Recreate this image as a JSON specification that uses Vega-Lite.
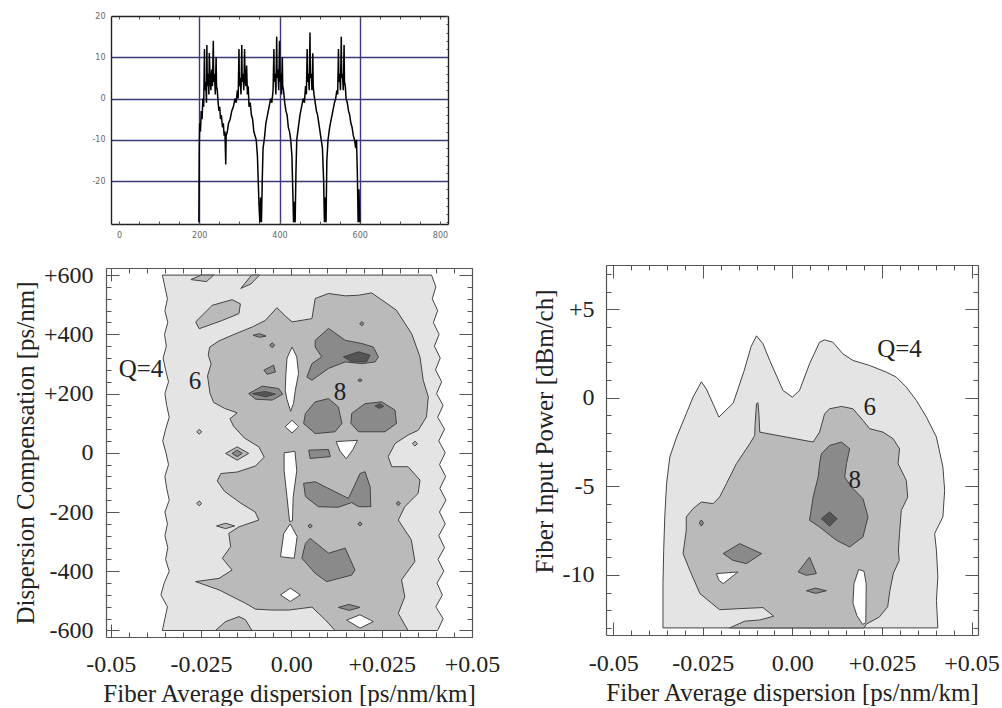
{
"$schema": "https://vega.github.io/schema/vega-lite/v6.json",
"autosize": {"type": "pad"},
"padding": {"left": 13, "top": 12, "right": 0, "bottom": 0},
"background": "white",
"config": {
 "view": {"stroke": null},
 "font": "Liberation Serif",
 "axis": {"labelFont": "Liberation Serif", "labelFontSize": 24, "labelColor": "#222", "titleFont": "Liberation Serif", "titleFontSize": 25, "titleFontWeight": "normal", "titleColor": "#222", "domainColor": "#555", "domainWidth": 1.2, "tickColor": "#555", "tickWidth": 1, "grid": false, "zindex": 1, "labelFlush": false, "labelOverlap": false, "labelBound": false}
},
"datasets": {
 "disp": [
{"x":199,"y":-30},{"x":200,"y":-12},{"x":201,"y":-6},{"x":203,"y":-8},{"x":205,"y":-3},{"x":207,"y":-5},{"x":209,"y":0},{"x":211,"y":-2},{"x":213,"y":12},{"x":214,"y":2},{"x":216,"y":4},{"x":218,"y":-1},{"x":219,"y":13},{"x":220,"y":3},{"x":222,"y":6},{"x":224,"y":1},{"x":225,"y":11},{"x":227,"y":5},{"x":229,"y":2},{"x":231,"y":7},{"x":233,"y":3},{"x":235,"y":14},{"x":236,"y":4},{"x":238,"y":6},{"x":240,"y":1},{"x":242,"y":10},{"x":243,"y":3},{"x":245,"y":2},{"x":247,"y":-1},{"x":249,"y":-3},{"x":251,"y":-2},{"x":253,"y":-5},{"x":255,"y":-4},{"x":258,"y":-7},{"x":260,"y":-6},{"x":262,"y":-9},{"x":264,"y":-8},{"x":266,"y":-16},{"x":267,"y":-9},{"x":270,"y":-8},{"x":273,"y":-6},{"x":277,"y":-5},{"x":281,"y":-3},{"x":285,"y":-2},{"x":289,"y":0},{"x":292,"y":-1},{"x":295,"y":2},{"x":297,"y":0},{"x":299,"y":12},{"x":300,"y":3},{"x":302,"y":5},{"x":304,"y":1},{"x":306,"y":13},{"x":307,"y":4},{"x":309,"y":6},{"x":311,"y":2},{"x":313,"y":12},{"x":314,"y":5},{"x":316,"y":3},{"x":318,"y":8},{"x":320,"y":1},{"x":322,"y":3},{"x":324,"y":-2},{"x":327,"y":-1},{"x":330,"y":-4},{"x":333,"y":-5},{"x":336,"y":-8},{"x":339,"y":-9},{"x":342,"y":-10},{"x":345,"y":-14},{"x":347,"y":-20},{"x":349,"y":-26},{"x":351,"y":-30},{"x":353,"y":-24},{"x":355,"y":-30},{"x":357,"y":-20},{"x":359,"y":-12},{"x":362,"y":-10},{"x":366,"y":-6},{"x":370,"y":-4},{"x":374,"y":-2},{"x":378,"y":0},{"x":381,"y":-1},{"x":384,"y":2},{"x":386,"y":12},{"x":387,"y":4},{"x":389,"y":6},{"x":391,"y":1},{"x":393,"y":15},{"x":394,"y":5},{"x":396,"y":7},{"x":398,"y":2},{"x":400,"y":14},{"x":401,"y":4},{"x":403,"y":6},{"x":405,"y":1},{"x":407,"y":10},{"x":408,"y":3},{"x":410,"y":2},{"x":413,"y":-1},{"x":416,"y":-3},{"x":419,"y":-4},{"x":422,"y":-7},{"x":425,"y":-8},{"x":428,"y":-10},{"x":431,"y":-14},{"x":433,"y":-22},{"x":435,"y":-30},{"x":437,"y":-25},{"x":439,"y":-30},{"x":441,"y":-18},{"x":443,"y":-10},{"x":447,"y":-7},{"x":451,"y":-4},{"x":455,"y":-2},{"x":459,"y":0},{"x":462,"y":-1},{"x":465,"y":3},{"x":467,"y":1},{"x":469,"y":12},{"x":470,"y":4},{"x":472,"y":6},{"x":474,"y":2},{"x":476,"y":16},{"x":477,"y":5},{"x":479,"y":6},{"x":481,"y":2},{"x":483,"y":11},{"x":484,"y":3},{"x":486,"y":1},{"x":489,"y":-1},{"x":492,"y":-3},{"x":495,"y":-4},{"x":498,"y":-6},{"x":501,"y":-8},{"x":504,"y":-10},{"x":507,"y":-12},{"x":510,"y":-20},{"x":512,"y":-30},{"x":514,"y":-24},{"x":516,"y":-30},{"x":518,"y":-15},{"x":521,"y":-10},{"x":525,"y":-7},{"x":529,"y":-5},{"x":533,"y":-3},{"x":537,"y":-1},{"x":540,"y":0},{"x":543,"y":2},{"x":545,"y":1},{"x":547,"y":12},{"x":548,"y":4},{"x":550,"y":6},{"x":552,"y":2},{"x":554,"y":15},{"x":555,"y":5},{"x":557,"y":6},{"x":559,"y":2},{"x":561,"y":13},{"x":562,"y":4},{"x":564,"y":3},{"x":566,"y":0},{"x":569,"y":-1},{"x":572,"y":-3},{"x":575,"y":-4},{"x":578,"y":-6},{"x":581,"y":-7},{"x":584,"y":-9},{"x":587,"y":-10},{"x":590,"y":-12},{"x":592,"y":-10},{"x":594,"y":-18},{"x":596,"y":-30},{"x":598,"y":-22},{"x":600,"y":-30}
 ],
 "contB": [
{"g":"q4","l":4,"x":-0.0357,"y":600},{"g":"q4","l":4,"x":-0.0350,"y":560},{"g":"q4","l":4,"x":-0.0343,"y":520},{"g":"q4","l":4,"x":-0.0350,"y":480},{"g":"q4","l":4,"x":-0.0342,"y":440},{"g":"q4","l":4,"x":-0.0351,"y":400},{"g":"q4","l":4,"x":-0.0346,"y":360},{"g":"q4","l":4,"x":-0.0355,"y":320},{"g":"q4","l":4,"x":-0.0348,"y":280},{"g":"q4","l":4,"x":-0.0340,"y":240},{"g":"q4","l":4,"x":-0.0350,"y":200},{"g":"q4","l":4,"x":-0.0345,"y":160},{"g":"q4","l":4,"x":-0.0338,"y":120},{"g":"q4","l":4,"x":-0.0348,"y":80},{"g":"q4","l":4,"x":-0.0356,"y":40},{"g":"q4","l":4,"x":-0.0347,"y":0},{"g":"q4","l":4,"x":-0.0340,"y":-40},{"g":"q4","l":4,"x":-0.0350,"y":-80},{"g":"q4","l":4,"x":-0.0345,"y":-120},{"g":"q4","l":4,"x":-0.0338,"y":-160},{"g":"q4","l":4,"x":-0.0350,"y":-200},{"g":"q4","l":4,"x":-0.0343,"y":-240},{"g":"q4","l":4,"x":-0.0350,"y":-280},{"g":"q4","l":4,"x":-0.0342,"y":-320},{"g":"q4","l":4,"x":-0.0348,"y":-360},{"g":"q4","l":4,"x":-0.0338,"y":-400},{"g":"q4","l":4,"x":-0.0352,"y":-440},{"g":"q4","l":4,"x":-0.0361,"y":-480},{"g":"q4","l":4,"x":-0.0343,"y":-520},{"g":"q4","l":4,"x":-0.0350,"y":-560},{"g":"q4","l":4,"x":-0.0357,"y":-600},
{"g":"q4","l":4,"x":0.0405,"y":-600},{"g":"q4","l":4,"x":0.0420,"y":-560},{"g":"q4","l":4,"x":0.0400,"y":-520},{"g":"q4","l":4,"x":0.0418,"y":-480},{"g":"q4","l":4,"x":0.0403,"y":-440},{"g":"q4","l":4,"x":0.0422,"y":-400},{"g":"q4","l":4,"x":0.0406,"y":-360},{"g":"q4","l":4,"x":0.0424,"y":-320},{"g":"q4","l":4,"x":0.0408,"y":-280},{"g":"q4","l":4,"x":0.0426,"y":-240},{"g":"q4","l":4,"x":0.0410,"y":-200},{"g":"q4","l":4,"x":0.0428,"y":-160},{"g":"q4","l":4,"x":0.0411,"y":-120},{"g":"q4","l":4,"x":0.0427,"y":-80},{"g":"q4","l":4,"x":0.0410,"y":-40},{"g":"q4","l":4,"x":0.0426,"y":0},{"g":"q4","l":4,"x":0.0408,"y":40},{"g":"q4","l":4,"x":0.0424,"y":80},{"g":"q4","l":4,"x":0.0405,"y":120},{"g":"q4","l":4,"x":0.0420,"y":160},{"g":"q4","l":4,"x":0.0402,"y":200},{"g":"q4","l":4,"x":0.0416,"y":240},{"g":"q4","l":4,"x":0.0399,"y":280},{"g":"q4","l":4,"x":0.0412,"y":320},{"g":"q4","l":4,"x":0.0396,"y":360},{"g":"q4","l":4,"x":0.0409,"y":400},{"g":"q4","l":4,"x":0.0393,"y":440},{"g":"q4","l":4,"x":0.0405,"y":480},{"g":"q4","l":4,"x":0.0390,"y":520},{"g":"q4","l":4,"x":0.0400,"y":560},{"g":"q4","l":4,"x":0.0388,"y":600},
{"g":"m","l":6,"x":-0.0230,"y":330},{"g":"m","l":6,"x":-0.0226,"y":357},{"g":"m","l":6,"x":-0.0200,"y":378},{"g":"m","l":6,"x":-0.0164,"y":397},{"g":"m","l":6,"x":-0.0108,"y":425},{"g":"m","l":6,"x":-0.0072,"y":447},{"g":"m","l":6,"x":-0.0040,"y":490},{"g":"m","l":6,"x":-0.0015,"y":460},{"g":"m","l":6,"x":0.0002,"y":442},{"g":"m","l":6,"x":0.0057,"y":453},{"g":"m","l":6,"x":0.0066,"y":521},{"g":"m","l":6,"x":0.0103,"y":538},{"g":"m","l":6,"x":0.0150,"y":530},{"g":"m","l":6,"x":0.0186,"y":532},{"g":"m","l":6,"x":0.0222,"y":540},{"g":"m","l":6,"x":0.0259,"y":509},{"g":"m","l":6,"x":0.0291,"y":481},{"g":"m","l":6,"x":0.0333,"y":402},{"g":"m","l":6,"x":0.0356,"y":324},{"g":"m","l":6,"x":0.0365,"y":245},{"g":"m","l":6,"x":0.0379,"y":189},{"g":"m","l":6,"x":0.0374,"y":121},{"g":"m","l":6,"x":0.0351,"y":76},{"g":"m","l":6,"x":0.0323,"y":60},{"g":"m","l":6,"x":0.0287,"y":31},{"g":"m","l":6,"x":0.0268,"y":-13},{"g":"m","l":6,"x":0.0278,"y":-47},{"g":"m","l":6,"x":0.0323,"y":-47},{"g":"m","l":6,"x":0.0356,"y":-92},{"g":"m","l":6,"x":0.0351,"y":-137},{"g":"m","l":6,"x":0.0314,"y":-182},{"g":"m","l":6,"x":0.0296,"y":-227},{"g":"m","l":6,"x":0.0332,"y":-294},{"g":"m","l":6,"x":0.0342,"y":-367},{"g":"m","l":6,"x":0.0305,"y":-429},{"g":"m","l":6,"x":0.0314,"y":-486},{"g":"m","l":6,"x":0.0296,"y":-542},{"g":"m","l":6,"x":0.0323,"y":-600},{"g":"m","l":6,"x":0.0121,"y":-600},{"g":"m","l":6,"x":0.0094,"y":-564},{"g":"m","l":6,"x":0.0057,"y":-521},{"g":"m","l":6,"x":-0.0007,"y":-531},{"g":"m","l":6,"x":-0.0053,"y":-531},{"g":"m","l":6,"x":-0.0099,"y":-528},{"g":"m","l":6,"x":-0.0127,"y":-508},{"g":"m","l":6,"x":-0.0200,"y":-463},{"g":"m","l":6,"x":-0.0265,"y":-435},{"g":"m","l":6,"x":-0.0200,"y":-424},{"g":"m","l":6,"x":-0.0164,"y":-396},{"g":"m","l":6,"x":-0.0191,"y":-356},{"g":"m","l":6,"x":-0.0168,"y":-317},{"g":"m","l":6,"x":-0.0173,"y":-272},{"g":"m","l":6,"x":-0.0145,"y":-250},{"g":"m","l":6,"x":-0.0090,"y":-227},{"g":"m","l":6,"x":-0.0100,"y":-200},{"g":"m","l":6,"x":-0.0140,"y":-170},{"g":"m","l":6,"x":-0.0185,"y":-130},{"g":"m","l":6,"x":-0.0205,"y":-95},{"g":"m","l":6,"x":-0.0195,"y":-70},{"g":"m","l":6,"x":-0.0150,"y":-65},{"g":"m","l":6,"x":-0.0100,"y":-45},{"g":"m","l":6,"x":-0.0075,"y":-15},{"g":"m","l":6,"x":-0.0090,"y":20},{"g":"m","l":6,"x":-0.0130,"y":50},{"g":"m","l":6,"x":-0.0160,"y":90},{"g":"m","l":6,"x":-0.0170,"y":115},{"g":"m","l":6,"x":-0.0150,"y":135},{"g":"m","l":6,"x":-0.0185,"y":150},{"g":"m","l":6,"x":-0.0215,"y":170},{"g":"m","l":6,"x":-0.0225,"y":200},{"g":"m","l":6,"x":-0.0232,"y":260},{"g":"m","l":6,"x":-0.0222,"y":300},
{"g":"i1","l":6,"x":-0.0278,"y":585},{"g":"i1","l":6,"x":-0.0250,"y":600},{"g":"i1","l":6,"x":-0.0215,"y":600},{"g":"i1","l":6,"x":-0.0235,"y":578},
{"g":"i2","l":6,"x":-0.0140,"y":555},{"g":"i2","l":6,"x":-0.0110,"y":600},{"g":"i2","l":6,"x":-0.0088,"y":600},{"g":"i2","l":6,"x":-0.0112,"y":570},
{"g":"i3","l":6,"x":-0.0265,"y":442},{"g":"i3","l":6,"x":-0.0219,"y":498},{"g":"i3","l":6,"x":-0.0164,"y":517},{"g":"i3","l":6,"x":-0.0141,"y":503},{"g":"i3","l":6,"x":-0.0145,"y":470},{"g":"i3","l":6,"x":-0.0191,"y":447},{"g":"i3","l":6,"x":-0.0255,"y":419},
{"g":"i4","l":6,"x":-0.0182,"y":-2},{"g":"i4","l":6,"x":-0.0150,"y":20},{"g":"i4","l":6,"x":-0.0118,"y":-2},{"g":"i4","l":6,"x":-0.0150,"y":-25},
{"g":"i5","l":6,"x":-0.0207,"y":-247},{"g":"i5","l":6,"x":-0.0182,"y":-238},{"g":"i5","l":6,"x":-0.0157,"y":-247},{"g":"i5","l":6,"x":-0.0182,"y":-256},
{"g":"i6","l":6,"x":-0.0210,"y":-600},{"g":"i6","l":6,"x":-0.0182,"y":-570},{"g":"i6","l":6,"x":-0.0145,"y":-553},{"g":"i6","l":6,"x":-0.0127,"y":-564},{"g":"i6","l":6,"x":-0.0109,"y":-600},
{"g":"i7","l":6,"x":-0.0262,"y":71},{"g":"i7","l":6,"x":-0.0255,"y":79},{"g":"i7","l":6,"x":-0.0248,"y":71},{"g":"i7","l":6,"x":-0.0255,"y":63},
{"g":"i8","l":6,"x":-0.0262,"y":-171},{"g":"i8","l":6,"x":-0.0255,"y":-163},{"g":"i8","l":6,"x":-0.0248,"y":-171},{"g":"i8","l":6,"x":-0.0255,"y":-179},
{"g":"i9","l":6,"x":0.0335,"y":31},{"g":"i9","l":6,"x":0.0342,"y":39},{"g":"i9","l":6,"x":0.0349,"y":31},{"g":"i9","l":6,"x":0.0342,"y":23},
{"g":"h1","l":0,"x":0.0002,"y":357},{"g":"h1","l":0,"x":0.0015,"y":324},{"g":"h1","l":0,"x":0.0020,"y":268},{"g":"h1","l":0,"x":0.0011,"y":211},{"g":"h1","l":0,"x":0.0006,"y":167},{"g":"h1","l":0,"x":-0.0002,"y":140},{"g":"h1","l":0,"x":-0.0012,"y":180},{"g":"h1","l":0,"x":-0.0017,"y":211},{"g":"h1","l":0,"x":-0.0015,"y":268},{"g":"h1","l":0,"x":-0.0012,"y":320},
{"g":"h2","l":0,"x":-0.0017,"y":88},{"g":"h2","l":0,"x":0.0002,"y":110},{"g":"h2","l":0,"x":0.0020,"y":88},{"g":"h2","l":0,"x":0.0002,"y":67},
{"g":"h3","l":0,"x":-0.0020,"y":0},{"g":"h3","l":0,"x":0.0010,"y":5},{"g":"h3","l":0,"x":0.0015,"y":-60},{"g":"h3","l":0,"x":0.0005,"y":-150},{"g":"h3","l":0,"x":0.0003,"y":-230},{"g":"h3","l":0,"x":-0.0005,"y":-232},{"g":"h3","l":0,"x":-0.0012,"y":-150},{"g":"h3","l":0,"x":-0.0020,"y":-60},
{"g":"h4","l":0,"x":-0.0003,"y":-240},{"g":"h4","l":0,"x":0.0016,"y":-283},{"g":"h4","l":0,"x":0.0008,"y":-356},{"g":"h4","l":0,"x":-0.0030,"y":-351},{"g":"h4","l":0,"x":-0.0021,"y":-272},
{"g":"h5","l":0,"x":0.0124,"y":38},{"g":"h5","l":0,"x":0.0183,"y":42},{"g":"h5","l":0,"x":0.0170,"y":10},{"g":"h5","l":0,"x":0.0152,"y":-20},{"g":"h5","l":0,"x":0.0135,"y":5},
{"g":"h6","l":0,"x":-0.0030,"y":-480},{"g":"h6","l":0,"x":-0.0003,"y":-457},{"g":"h6","l":0,"x":0.0025,"y":-480},{"g":"h6","l":0,"x":-0.0003,"y":-502},
{"g":"h7","l":0,"x":0.0153,"y":-565},{"g":"h7","l":0,"x":0.0190,"y":-547},{"g":"h7","l":0,"x":0.0227,"y":-570},{"g":"h7","l":0,"x":0.0190,"y":-592},
{"g":"e1","l":8,"x":0.0066,"y":380},{"g":"e1","l":8,"x":0.0103,"y":420},{"g":"e1","l":8,"x":0.0149,"y":380},{"g":"e1","l":8,"x":0.0195,"y":369},{"g":"e1","l":8,"x":0.0227,"y":357},{"g":"e1","l":8,"x":0.0241,"y":324},{"g":"e1","l":8,"x":0.0232,"y":307},{"g":"e1","l":8,"x":0.0195,"y":301},{"g":"e1","l":8,"x":0.0149,"y":307},{"g":"e1","l":8,"x":0.0103,"y":285},{"g":"e1","l":8,"x":0.0057,"y":245},{"g":"e1","l":8,"x":0.0043,"y":256},{"g":"e1","l":8,"x":0.0057,"y":301},{"g":"e1","l":8,"x":0.0084,"y":324},{"g":"e1","l":8,"x":0.0066,"y":357},
{"g":"e2","l":8,"x":-0.0118,"y":200},{"g":"e2","l":8,"x":-0.0081,"y":225},{"g":"e2","l":8,"x":-0.0035,"y":217},{"g":"e2","l":8,"x":-0.0024,"y":198},{"g":"e2","l":8,"x":-0.0053,"y":178},{"g":"e2","l":8,"x":-0.0099,"y":181},
{"g":"e3","l":8,"x":-0.0076,"y":279},{"g":"e3","l":8,"x":-0.0049,"y":296},{"g":"e3","l":8,"x":-0.0044,"y":273},{"g":"e3","l":8,"x":-0.0067,"y":265},
{"g":"e4","l":8,"x":-0.0060,"y":363},{"g":"e4","l":8,"x":-0.0053,"y":372},{"g":"e4","l":8,"x":-0.0046,"y":363},{"g":"e4","l":8,"x":-0.0053,"y":355},
{"g":"e5","l":8,"x":-0.0106,"y":397},{"g":"e5","l":8,"x":-0.0088,"y":402},{"g":"e5","l":8,"x":-0.0070,"y":394},{"g":"e5","l":8,"x":-0.0088,"y":390},
{"g":"e6","l":8,"x":0.0039,"y":133},{"g":"e6","l":8,"x":0.0066,"y":172},{"g":"e6","l":8,"x":0.0103,"y":183},{"g":"e6","l":8,"x":0.0130,"y":155},{"g":"e6","l":8,"x":0.0140,"y":99},{"g":"e6","l":8,"x":0.0121,"y":71},{"g":"e6","l":8,"x":0.0066,"y":65},{"g":"e6","l":8,"x":0.0034,"y":99},
{"g":"e7","l":8,"x":0.0167,"y":133},{"g":"e7","l":8,"x":0.0204,"y":166},{"g":"e7","l":8,"x":0.0250,"y":172},{"g":"e7","l":8,"x":0.0287,"y":144},{"g":"e7","l":8,"x":0.0291,"y":99},{"g":"e7","l":8,"x":0.0259,"y":71},{"g":"e7","l":8,"x":0.0186,"y":71},{"g":"e7","l":8,"x":0.0165,"y":99},
{"g":"e8","l":8,"x":0.0048,"y":9},{"g":"e8","l":8,"x":0.0103,"y":11},{"g":"e8","l":8,"x":0.0108,"y":-13},{"g":"e8","l":8,"x":0.0052,"y":-19},
{"g":"e9","l":8,"x":0.0034,"y":-103},{"g":"e9","l":8,"x":0.0066,"y":-98},{"g":"e9","l":8,"x":0.0112,"y":-126},{"g":"e9","l":8,"x":0.0158,"y":-154},{"g":"e9","l":8,"x":0.0175,"y":-110},{"g":"e9","l":8,"x":0.0190,"y":-70},{"g":"e9","l":8,"x":0.0204,"y":-64},{"g":"e9","l":8,"x":0.0218,"y":-115},{"g":"e9","l":8,"x":0.0220,"y":-182},{"g":"e9","l":8,"x":0.0186,"y":-182},{"g":"e9","l":8,"x":0.0167,"y":-168},{"g":"e9","l":8,"x":0.0130,"y":-184},{"g":"e9","l":8,"x":0.0075,"y":-182},{"g":"e9","l":8,"x":0.0039,"y":-148},
{"g":"e10","l":8,"x":0.0052,"y":-289},{"g":"e10","l":8,"x":0.0103,"y":-339},{"g":"e10","l":8,"x":0.0149,"y":-322},{"g":"e10","l":8,"x":0.0176,"y":-396},{"g":"e10","l":8,"x":0.0167,"y":-413},{"g":"e10","l":8,"x":0.0098,"y":-435},{"g":"e10","l":8,"x":0.0066,"y":-407},{"g":"e10","l":8,"x":0.0029,"y":-356},{"g":"e10","l":8,"x":0.0039,"y":-306},
{"g":"e11","l":8,"x":0.0130,"y":-522},{"g":"e11","l":8,"x":0.0160,"y":-512},{"g":"e11","l":8,"x":0.0190,"y":-522},{"g":"e11","l":8,"x":0.0160,"y":-532},
{"g":"e12","l":8,"x":-0.0164,"y":-2},{"g":"e12","l":8,"x":-0.0150,"y":9},{"g":"e12","l":8,"x":-0.0136,"y":-2},{"g":"e12","l":8,"x":-0.0150,"y":-13},
{"g":"f1","l":8,"x":0.0046,"y":-247},{"g":"f1","l":8,"x":0.0052,"y":-240},{"g":"f1","l":8,"x":0.0058,"y":-247},{"g":"f1","l":8,"x":0.0052,"y":-254},
{"g":"f2","l":8,"x":0.0184,"y":-240},{"g":"f2","l":8,"x":0.0190,"y":-233},{"g":"f2","l":8,"x":0.0196,"y":-240},{"g":"f2","l":8,"x":0.0190,"y":-247},
{"g":"f3","l":8,"x":0.0290,"y":-171},{"g":"f3","l":8,"x":0.0296,"y":-164},{"g":"f3","l":8,"x":0.0302,"y":-171},{"g":"f3","l":8,"x":0.0296,"y":-178},
{"g":"f4","l":8,"x":0.0189,"y":436},{"g":"f4","l":8,"x":0.0195,"y":443},{"g":"f4","l":8,"x":0.0201,"y":436},{"g":"f4","l":8,"x":0.0195,"y":429},
{"g":"f5","l":8,"x":0.0184,"y":245},{"g":"f5","l":8,"x":0.0190,"y":250},{"g":"f5","l":8,"x":0.0196,"y":245},{"g":"f5","l":8,"x":0.0190,"y":240},
{"g":"t1","l":10,"x":0.0144,"y":324},{"g":"t1","l":10,"x":0.0186,"y":341},{"g":"t1","l":10,"x":0.0218,"y":330},{"g":"t1","l":10,"x":0.0208,"y":307},{"g":"t1","l":10,"x":0.0167,"y":307},
{"g":"t2","l":10,"x":-0.0108,"y":200},{"g":"t2","l":10,"x":-0.0072,"y":207},{"g":"t2","l":10,"x":-0.0044,"y":198},{"g":"t2","l":10,"x":-0.0072,"y":189},
{"g":"t3","l":10,"x":0.0232,"y":158},{"g":"t3","l":10,"x":0.0245,"y":166},{"g":"t3","l":10,"x":0.0256,"y":157},{"g":"t3","l":10,"x":0.0243,"y":150}
 ],
 "contC": [
{"g":"q4","l":4,"x":-0.0361,"y":-13.0},{"g":"q4","l":4,"x":-0.0361,"y":-10.5},{"g":"q4","l":4,"x":-0.0359,"y":-8.62},{"g":"q4","l":4,"x":-0.0356,"y":-6.73},{"g":"q4","l":4,"x":-0.0351,"y":-4.85},{"g":"q4","l":4,"x":-0.0342,"y":-3.35},{"g":"q4","l":4,"x":-0.0323,"y":-2.22},{"g":"q4","l":4,"x":-0.0296,"y":-0.90},{"g":"q4","l":4,"x":-0.0277,"y":0.04},{"g":"q4","l":4,"x":-0.0254,"y":0.90},{"g":"q4","l":4,"x":-0.0240,"y":0.5},{"g":"q4","l":4,"x":-0.0220,"y":-0.4},{"g":"q4","l":4,"x":-0.0205,"y":-1.09},{"g":"q4","l":4,"x":-0.0165,"y":-0.3},{"g":"q4","l":4,"x":-0.0135,"y":1.5},{"g":"q4","l":4,"x":-0.0115,"y":2.9},{"g":"q4","l":4,"x":-0.0100,"y":3.5},{"g":"q4","l":4,"x":-0.0082,"y":3.05},{"g":"q4","l":4,"x":-0.0063,"y":2.1},{"g":"q4","l":4,"x":-0.0026,"y":0.41},{"g":"q4","l":4,"x":0.0000,"y":0.04},{"g":"q4","l":4,"x":0.0020,"y":0.41},{"g":"q4","l":4,"x":0.0048,"y":1.92},{"g":"q4","l":4,"x":0.0076,"y":3.14},{"g":"q4","l":4,"x":0.0090,"y":3.27},{"g":"q4","l":4,"x":0.0113,"y":3.14},{"g":"q4","l":4,"x":0.0141,"y":2.48},{"g":"q4","l":4,"x":0.0169,"y":2.11},{"g":"q4","l":4,"x":0.0216,"y":1.82},{"g":"q4","l":4,"x":0.0262,"y":1.45},{"g":"q4","l":4,"x":0.0290,"y":1.17},{"g":"q4","l":4,"x":0.0318,"y":0.60},{"g":"q4","l":4,"x":0.0346,"y":-0.15},{"g":"q4","l":4,"x":0.0374,"y":-1.09},{"g":"q4","l":4,"x":0.0402,"y":-2.22},{"g":"q4","l":4,"x":0.0420,"y":-3.91},{"g":"q4","l":4,"x":0.0425,"y":-5.23},{"g":"q4","l":4,"x":0.0420,"y":-6.73},{"g":"q4","l":4,"x":0.0397,"y":-7.67},{"g":"q4","l":4,"x":0.0402,"y":-8.62},{"g":"q4","l":4,"x":0.0406,"y":-10.12},{"g":"q4","l":4,"x":0.0402,"y":-11.44},{"g":"q4","l":4,"x":0.0406,"y":-13.0},
{"g":"m","l":6,"x":-0.0100,"y":-0.34},{"g":"m","l":6,"x":-0.0096,"y":-0.28},{"g":"m","l":6,"x":-0.0093,"y":-1.0},{"g":"m","l":6,"x":-0.0091,"y":-1.94},{"g":"m","l":6,"x":-0.0017,"y":-2.22},{"g":"m","l":6,"x":0.0058,"y":-2.50},{"g":"m","l":6,"x":0.0076,"y":-1.94},{"g":"m","l":6,"x":0.0090,"y":-0.90},{"g":"m","l":6,"x":0.0104,"y":-0.62},{"g":"m","l":6,"x":0.0137,"y":-0.49},{"g":"m","l":6,"x":0.0169,"y":-0.62},{"g":"m","l":6,"x":0.0197,"y":-1.28},{"g":"m","l":6,"x":0.0216,"y":-1.75},{"g":"m","l":6,"x":0.0253,"y":-1.94},{"g":"m","l":6,"x":0.0281,"y":-2.31},{"g":"m","l":6,"x":0.0299,"y":-2.88},{"g":"m","l":6,"x":0.0295,"y":-3.72},{"g":"m","l":6,"x":0.0318,"y":-4.67},{"g":"m","l":6,"x":0.0322,"y":-5.61},{"g":"m","l":6,"x":0.0304,"y":-6.36},{"g":"m","l":6,"x":0.0299,"y":-7.67},{"g":"m","l":6,"x":0.0296,"y":-8.6},{"g":"m","l":6,"x":0.0298,"y":-9.2},{"g":"m","l":6,"x":0.0282,"y":-9.9},{"g":"m","l":6,"x":0.0272,"y":-10.9},{"g":"m","l":6,"x":0.0266,"y":-11.8},{"g":"m","l":6,"x":0.0243,"y":-12.38},{"g":"m","l":6,"x":0.0206,"y":-12.79},{"g":"m","l":6,"x":0.0200,"y":-13.0},{"g":"m","l":6,"x":-0.0175,"y":-13.0},{"g":"m","l":6,"x":-0.0133,"y":-12.62},{"g":"m","l":6,"x":-0.0091,"y":-12.55},{"g":"m","l":6,"x":-0.0052,"y":-12.34},{"g":"m","l":6,"x":-0.0082,"y":-11.85},{"g":"m","l":6,"x":-0.0147,"y":-11.91},{"g":"m","l":6,"x":-0.0203,"y":-11.97},{"g":"m","l":6,"x":-0.0258,"y":-11.06},{"g":"m","l":6,"x":-0.0286,"y":-9.75},{"g":"m","l":6,"x":-0.0305,"y":-8.80},{"g":"m","l":6,"x":-0.0296,"y":-7.49},{"g":"m","l":6,"x":-0.0296,"y":-6.73},{"g":"m","l":6,"x":-0.0277,"y":-6.26},{"g":"m","l":6,"x":-0.0254,"y":-5.89},{"g":"m","l":6,"x":-0.0221,"y":-5.98},{"g":"m","l":6,"x":-0.0203,"y":-5.61},{"g":"m","l":6,"x":-0.0184,"y":-4.85},{"g":"m","l":6,"x":-0.0156,"y":-3.72},{"g":"m","l":6,"x":-0.0119,"y":-2.60},{"g":"m","l":6,"x":-0.0105,"y":-2.13},{"g":"m","l":6,"x":-0.0104,"y":-1.5},
{"g":"h1","l":0,"x":0.0185,"y":-9.7},{"g":"h1","l":0,"x":0.0200,"y":-9.8},{"g":"h1","l":0,"x":0.0206,"y":-10.5},{"g":"h1","l":0,"x":0.0205,"y":-12.7},{"g":"h1","l":0,"x":0.0196,"y":-12.8},{"g":"h1","l":0,"x":0.0180,"y":-12.3},{"g":"h1","l":0,"x":0.0169,"y":-11.6},{"g":"h1","l":0,"x":0.0172,"y":-10.5},
{"g":"h2","l":0,"x":-0.0212,"y":-9.93},{"g":"h2","l":0,"x":-0.0152,"y":-9.84},{"g":"h2","l":0,"x":-0.0193,"y":-10.5},{"g":"h2","l":0,"x":-0.0205,"y":-10.3},
{"g":"e1","l":8,"x":0.0081,"y":-3.16},{"g":"e1","l":8,"x":0.0104,"y":-2.69},{"g":"e1","l":8,"x":0.0137,"y":-2.50},{"g":"e1","l":8,"x":0.0160,"y":-2.88},{"g":"e1","l":8,"x":0.0151,"y":-3.72},{"g":"e1","l":8,"x":0.0146,"y":-4.48},{"g":"e1","l":8,"x":0.0165,"y":-5.04},{"g":"e1","l":8,"x":0.0197,"y":-5.70},{"g":"e1","l":8,"x":0.0211,"y":-6.73},{"g":"e1","l":8,"x":0.0197,"y":-7.86},{"g":"e1","l":8,"x":0.0160,"y":-8.43},{"g":"e1","l":8,"x":0.0123,"y":-8.05},{"g":"e1","l":8,"x":0.0076,"y":-7.30},{"g":"e1","l":8,"x":0.0048,"y":-6.92},{"g":"e1","l":8,"x":0.0058,"y":-5.61},{"g":"e1","l":8,"x":0.0072,"y":-4.48},{"g":"e1","l":8,"x":0.0076,"y":-3.72},
{"g":"e2","l":8,"x":-0.0193,"y":-8.80},{"g":"e2","l":8,"x":-0.0147,"y":-8.24},{"g":"e2","l":8,"x":-0.0086,"y":-8.80},{"g":"e2","l":8,"x":-0.0128,"y":-9.37},{"g":"e2","l":8,"x":-0.0166,"y":-9.18},
{"g":"e3","l":8,"x":0.0016,"y":-9.84},{"g":"e3","l":8,"x":0.0048,"y":-9.0},{"g":"e3","l":8,"x":0.0067,"y":-9.93},{"g":"e3","l":8,"x":0.0039,"y":-10.03},
{"g":"e4","l":8,"x":0.0039,"y":-10.9},{"g":"e4","l":8,"x":0.0065,"y":-10.75},{"g":"e4","l":8,"x":0.0095,"y":-10.9},{"g":"e4","l":8,"x":0.0065,"y":-11.05},
{"g":"e5","l":8,"x":-0.0260,"y":-7.07},{"g":"e5","l":8,"x":-0.0254,"y":-6.9},{"g":"e5","l":8,"x":-0.0248,"y":-7.07},{"g":"e5","l":8,"x":-0.0254,"y":-7.25},
{"g":"t1","l":10,"x":0.0081,"y":-6.83},{"g":"t1","l":10,"x":0.0104,"y":-6.45},{"g":"t1","l":10,"x":0.0125,"y":-6.83},{"g":"t1","l":10,"x":0.0104,"y":-7.26}
 ],
 "labB": [{"x":-0.0416,"y":284,"t":"Q=4"},{"x":-0.0267,"y":242,"t":"6"},{"x":0.0135,"y":206,"t":"8"}],
 "labC": [{"x":0.0299,"y":2.77,"t":"Q=4"},{"x":0.0216,"y":-0.53,"t":"6"},{"x":0.0174,"y":-4.67,"t":"8"}]
},
"bounds": "flush",
"spacing": 41,
"vconcat": [
 {
  "width": 342, "height": 208,
  "data": {"name": "disp"},
  "resolve": {"axis": {"x": "independent", "y": "independent"}},
  "layer": [
   {"transform": [{"filter": "false"}], "mark": "point",
    "encoding": {
     "x": {"field": "x", "type": "quantitative", "scale": {"domain": [-20, 820], "range": [5, 342], "nice": false, "zero": false}, "axis": {"orient": "bottom", "values": [200, 400, 600], "grid": true, "gridColor": "#3a3a78", "gridWidth": 1.4, "ticks": false, "labels": false, "domain": false, "zindex": 0, "title": null}},
     "y": {"field": "y", "type": "quantitative", "scale": {"domain": [-30.4, 20], "nice": false, "zero": false}, "axis": {"orient": "left", "values": [-20, -10, 0, 10], "grid": true, "gridColor": "#3a3a78", "gridWidth": 1.4, "ticks": false, "labels": false, "domain": false, "zindex": 0, "title": null}}
    }},
   {"mark": {"type": "line", "color": "#000", "strokeWidth": 1.5},
    "encoding": {
     "x": {"field": "x", "type": "quantitative", "scale": {"domain": [-20, 820], "range": [5, 342], "nice": false, "zero": false}, "axis": {"orient": "bottom", "values": [0, 200, 400, 600, 800], "labelExpr": "'' + datum.value", "ticks": false, "labelPadding": 7, "labelFont": "DejaVu Sans", "labelFontSize": 8, "labelColor": "#666", "domainColor": "#222", "domainWidth": 1.4, "title": null}},
     "y": {"field": "y", "type": "quantitative", "scale": {"domain": [-30.4, 20], "nice": false, "zero": false}, "axis": {"orient": "left", "offset": -5, "values": [-20, -10, 0, 10, 20], "labelExpr": "'' + datum.value", "ticks": false, "labelPadding": 6, "labelFont": "DejaVu Sans", "labelFontSize": 8, "labelColor": "#666", "domainColor": "#222", "domainWidth": 1.4, "title": null}}
    }},
   {"transform": [{"filter": "false"}], "mark": "point",
    "encoding": {
     "x": {"field": "x", "type": "quantitative", "scale": {"domain": [-20, 820], "range": [5, 342], "nice": false, "zero": false}, "axis": {"orient": "top", "values": [0,50,100,150,200,250,300,350,400,450,500,550,600,650,700,750,800], "labels": false, "tickSize": -3, "domainColor": "#222", "domainWidth": 1.4, "title": null}},
     "y": {"field": "y", "type": "quantitative", "scale": {"domain": [-30.4, 20], "nice": false, "zero": false}, "axis": {"orient": "right", "values": [-30,-28,-26,-24,-22,-20,-18,-16,-14,-12,-10,-8,-6,-4,-2,0,2,4,6,8,10,12,14,16,18,20], "labels": false, "tickSize": -2, "domainColor": "#222", "domainWidth": 1.4, "title": null}}
    }},
   {"transform": [{"filter": "false"}], "mark": "point",
    "encoding": {
     "x": {"field": "x", "type": "quantitative", "scale": {"domain": [-20, 820], "range": [5, 342], "nice": false, "zero": false}, "axis": {"orient": "bottom", "values": [0,50,100,150,200,250,300,350,400,450,500,550,600,650,700,750,800], "labels": false, "domain": false, "tickSize": -3, "title": null}},
     "y": {"field": "y", "type": "quantitative", "scale": {"domain": [-30.4, 20], "nice": false, "zero": false}, "axis": null}
    }}
  ]
 },
 {
  "bounds": "flush",
  "spacing": 134,
  "hconcat": [
   {
    "width": 366, "height": 372,
    "data": {"name": "contB"},
    "resolve": {"axis": {"x": "independent", "y": "independent"}},
    "layer": [
     {"transform": [{"filter": "datum.l === 4"}],
      "mark": {"type": "line", "interpolate": "linear-closed", "stroke": "#444", "strokeWidth": 1},
      "encoding": {
       "x": {"field": "x", "type": "quantitative", "scale": {"domain": [-0.0513, 0.05], "nice": false, "zero": false}, "axis": {"orient": "bottom", "values": [-0.05, -0.025, 0, 0.025, 0.05], "labelExpr": "datum.value < -0.04 ? '-0.05' : datum.value < -0.01 ? '-0.025' : datum.value < 0.01 ? '0.00' : datum.value < 0.04 ? '+0.025' : '+0.05'", "ticks": false, "labelPadding": 15, "title": "Fiber Average dispersion [ps/nm/km]", "titlePadding": 5}},
       "y": {"field": "y", "type": "quantitative", "scale": {"domain": [-622, 624], "range": [372, 3], "nice": false, "zero": false}, "axis": {"orient": "left", "values": [-600, -400, -200, 0, 200, 400, 600], "labelExpr": "(datum.value > 0 ? '+' : '') + datum.value", "ticks": false, "labelPadding": 13, "title": "Dispersion Compensation [ps/nm]", "titlePadding": 5}},
       "fill": {"field": "l", "type": "ordinal", "scale": {"domain": [0, 4, 6, 8, 10], "range": ["#ffffff", "#e4e4e4", "#bababa", "#8a8a8a", "#555555"]}, "legend": null},
       "detail": {"field": "g"},
       "order": {"value": null}
      }},
     {"transform": [{"filter": "datum.l === 6"}],
      "mark": {"type": "line", "interpolate": "linear-closed", "stroke": "#444", "strokeWidth": 1},
      "encoding": {
       "x": {"field": "x", "type": "quantitative", "scale": {"domain": [-0.0513, 0.05], "nice": false, "zero": false}, "axis": {"orient": "top", "offset": -3, "values": [-0.05, -0.025, 0, 0.025, 0.05], "labels": false, "tickSize": -13, "title": null}},
       "y": {"field": "y", "type": "quantitative", "scale": {"domain": [-622, 624], "range": [372, 3], "nice": false, "zero": false}, "axis": {"orient": "right", "values": [-600, -400, -200, 0, 200, 400, 600], "labels": false, "tickSize": -13, "title": null}},
       "fill": {"field": "l", "type": "ordinal", "scale": {"domain": [0, 4, 6, 8, 10], "range": ["#ffffff", "#e4e4e4", "#bababa", "#8a8a8a", "#555555"]}, "legend": null},
       "detail": {"field": "g"},
       "order": {"value": null}
      }},
     {"transform": [{"filter": "datum.l === 0"}],
      "mark": {"type": "line", "interpolate": "linear-closed", "stroke": "#444", "strokeWidth": 1},
      "encoding": {
       "x": {"field": "x", "type": "quantitative", "scale": {"domain": [-0.0513, 0.05], "nice": false, "zero": false}, "axis": {"orient": "bottom", "values": [-0.05, -0.025, 0, 0.025, 0.05], "labels": false, "domain": false, "tickSize": -13, "title": null}},
       "y": {"field": "y", "type": "quantitative", "scale": {"domain": [-622, 624], "range": [372, 3], "nice": false, "zero": false}, "axis": {"orient": "left", "values": [-600, -400, -200, 0, 200, 400, 600], "labels": false, "domain": false, "tickSize": -13, "title": null}},
       "fill": {"field": "l", "type": "ordinal", "scale": {"domain": [0, 4, 6, 8, 10], "range": ["#ffffff", "#e4e4e4", "#bababa", "#8a8a8a", "#555555"]}, "legend": null},
       "detail": {"field": "g"},
       "order": {"value": null}
      }},
     {"transform": [{"filter": "datum.l === 8"}],
      "mark": {"type": "line", "interpolate": "linear-closed", "stroke": "#444", "strokeWidth": 1},
      "encoding": {
       "x": {"field": "x", "type": "quantitative", "scale": {"domain": [-0.0513, 0.05], "nice": false, "zero": false}, "axis": {"orient": "bottom", "values": [-0.05,-0.045,-0.04,-0.035,-0.03,-0.025,-0.02,-0.015,-0.01,-0.005,0,0.005,0.01,0.015,0.02,0.025,0.03,0.035,0.04,0.045,0.05], "labels": false, "domain": false, "tickSize": -5, "title": null}},
       "y": {"field": "y", "type": "quantitative", "scale": {"domain": [-622, 624], "range": [372, 3], "nice": false, "zero": false}, "axis": {"orient": "left", "values": [-600,-560,-520,-480,-440,-400,-360,-320,-280,-240,-200,-160,-120,-80,-40,0,40,80,120,160,200,240,280,320,360,400,440,480,520,560,600], "labels": false, "domain": false, "tickSize": -5, "title": null}},
       "fill": {"field": "l", "type": "ordinal", "scale": {"domain": [0, 4, 6, 8, 10], "range": ["#ffffff", "#e4e4e4", "#bababa", "#8a8a8a", "#555555"]}, "legend": null},
       "detail": {"field": "g"},
       "order": {"value": null}
      }},
     {"transform": [{"filter": "datum.l === 10"}],
      "mark": {"type": "line", "interpolate": "linear-closed", "stroke": "#444", "strokeWidth": 1},
      "encoding": {
       "x": {"field": "x", "type": "quantitative", "scale": {"domain": [-0.0513, 0.05], "nice": false, "zero": false}, "axis": {"orient": "top", "offset": -3, "values": [-0.05,-0.045,-0.04,-0.035,-0.03,-0.025,-0.02,-0.015,-0.01,-0.005,0,0.005,0.01,0.015,0.02,0.025,0.03,0.035,0.04,0.045,0.05], "labels": false, "domain": false, "tickSize": -5, "title": null}},
       "y": {"field": "y", "type": "quantitative", "scale": {"domain": [-622, 624], "range": [372, 3], "nice": false, "zero": false}, "axis": {"orient": "right", "values": [-600,-560,-520,-480,-440,-400,-360,-320,-280,-240,-200,-160,-120,-80,-40,0,40,80,120,160,200,240,280,320,360,400,440,480,520,560,600], "labels": false, "domain": false, "tickSize": -5, "title": null}},
       "fill": {"field": "l", "type": "ordinal", "scale": {"domain": [0, 4, 6, 8, 10], "range": ["#ffffff", "#e4e4e4", "#bababa", "#8a8a8a", "#555555"]}, "legend": null},
       "detail": {"field": "g"},
       "order": {"value": null}
      }},
     {"data": {"name": "labB"},
      "mark": {"type": "text", "font": "Liberation Serif", "fontSize": 25, "color": "#222"},
      "encoding": {
       "x": {"field": "x", "type": "quantitative", "scale": {"domain": [-0.0513, 0.05], "nice": false, "zero": false}, "axis": null},
       "y": {"field": "y", "type": "quantitative", "scale": {"domain": [-622, 624], "range": [372, 3], "nice": false, "zero": false}, "axis": null},
       "text": {"field": "t"}
      }}
    ]
   },
   {
    "width": 372, "height": 370,
    "data": {"name": "contC"},
    "resolve": {"axis": {"x": "independent", "y": "independent"}},
    "layer": [
     {"transform": [{"filter": "datum.l === 4"}],
      "mark": {"type": "line", "interpolate": "linear-closed", "stroke": "#444", "strokeWidth": 1},
      "encoding": {
       "x": {"field": "x", "type": "quantitative", "scale": {"domain": [-0.0520, 0.0518], "nice": false, "zero": false}, "axis": {"orient": "bottom", "values": [-0.05, -0.025, 0, 0.025, 0.05], "labelExpr": "datum.value < -0.04 ? '-0.05' : datum.value < -0.01 ? '-0.025' : datum.value < 0.01 ? '0.00' : datum.value < 0.04 ? '+0.025' : '+0.05'", "ticks": false, "labelPadding": 16, "title": "Fiber Average dispersion [ps/nm/km]", "titlePadding": 5}},
       "y": {"field": "y", "type": "quantitative", "scale": {"domain": [-13.4, 7.5], "nice": false, "zero": false}, "axis": {"orient": "left", "values": [-10, -5, 0, 5], "labelExpr": "(datum.value > 0 ? '+' : '') + datum.value", "ticks": false, "labelPadding": 12, "title": "Fiber Input Power [dBm/ch]", "titlePadding": 5, "titleY": 166}},
       "fill": {"field": "l", "type": "ordinal", "scale": {"domain": [0, 4, 6, 8, 10], "range": ["#ffffff", "#e4e4e4", "#bababa", "#8a8a8a", "#555555"]}, "legend": null},
       "detail": {"field": "g"},
       "order": {"value": null}
      }},
     {"transform": [{"filter": "datum.l === 6"}],
      "mark": {"type": "line", "interpolate": "linear-closed", "stroke": "#444", "strokeWidth": 1},
      "encoding": {
       "x": {"field": "x", "type": "quantitative", "scale": {"domain": [-0.0520, 0.0518], "nice": false, "zero": false}, "axis": {"orient": "top", "values": [-0.05, -0.025, 0, 0.025, 0.05], "labels": false, "tickSize": -13, "title": null}},
       "y": {"field": "y", "type": "quantitative", "scale": {"domain": [-13.4, 7.5], "nice": false, "zero": false}, "axis": {"orient": "right", "values": [-10, -5, 0, 5], "labels": false, "tickSize": -13, "title": null}},
       "fill": {"field": "l", "type": "ordinal", "scale": {"domain": [0, 4, 6, 8, 10], "range": ["#ffffff", "#e4e4e4", "#bababa", "#8a8a8a", "#555555"]}, "legend": null},
       "detail": {"field": "g"},
       "order": {"value": null}
      }},
     {"transform": [{"filter": "datum.l === 0"}],
      "mark": {"type": "line", "interpolate": "linear-closed", "stroke": "#444", "strokeWidth": 1},
      "encoding": {
       "x": {"field": "x", "type": "quantitative", "scale": {"domain": [-0.0520, 0.0518], "nice": false, "zero": false}, "axis": {"orient": "bottom", "values": [-0.05, -0.025, 0, 0.025, 0.05], "labels": false, "domain": false, "tickSize": -13, "title": null}},
       "y": {"field": "y", "type": "quantitative", "scale": {"domain": [-13.4, 7.5], "nice": false, "zero": false}, "axis": {"orient": "left", "values": [-10, -5, 0, 5], "labels": false, "domain": false, "tickSize": -13, "title": null}},
       "fill": {"field": "l", "type": "ordinal", "scale": {"domain": [0, 4, 6, 8, 10], "range": ["#ffffff", "#e4e4e4", "#bababa", "#8a8a8a", "#555555"]}, "legend": null},
       "detail": {"field": "g"},
       "order": {"value": null}
      }},
     {"transform": [{"filter": "datum.l === 8"}],
      "mark": {"type": "line", "interpolate": "linear-closed", "stroke": "#444", "strokeWidth": 1},
      "encoding": {
       "x": {"field": "x", "type": "quantitative", "scale": {"domain": [-0.0520, 0.0518], "nice": false, "zero": false}, "axis": {"orient": "bottom", "values": [-0.05,-0.045,-0.04,-0.035,-0.03,-0.025,-0.02,-0.015,-0.01,-0.005,0,0.005,0.01,0.015,0.02,0.025,0.03,0.035,0.04,0.045,0.05], "labels": false, "domain": false, "tickSize": -5, "title": null}},
       "y": {"field": "y", "type": "quantitative", "scale": {"domain": [-13.4, 7.5], "nice": false, "zero": false}, "axis": {"orient": "left", "values": [-13,-12,-11,-10,-9,-8,-7,-6,-5,-4,-3,-2,-1,0,1,2,3,4,5,6,7], "labels": false, "domain": false, "tickSize": -5, "title": null}},
       "fill": {"field": "l", "type": "ordinal", "scale": {"domain": [0, 4, 6, 8, 10], "range": ["#ffffff", "#e4e4e4", "#bababa", "#8a8a8a", "#555555"]}, "legend": null},
       "detail": {"field": "g"},
       "order": {"value": null}
      }},
     {"transform": [{"filter": "datum.l === 10"}],
      "mark": {"type": "line", "interpolate": "linear-closed", "stroke": "#444", "strokeWidth": 1},
      "encoding": {
       "x": {"field": "x", "type": "quantitative", "scale": {"domain": [-0.0520, 0.0518], "nice": false, "zero": false}, "axis": {"orient": "top", "values": [-0.05,-0.045,-0.04,-0.035,-0.03,-0.025,-0.02,-0.015,-0.01,-0.005,0,0.005,0.01,0.015,0.02,0.025,0.03,0.035,0.04,0.045,0.05], "labels": false, "domain": false, "tickSize": -5, "title": null}},
       "y": {"field": "y", "type": "quantitative", "scale": {"domain": [-13.4, 7.5], "nice": false, "zero": false}, "axis": {"orient": "right", "values": [-13,-12,-11,-10,-9,-8,-7,-6,-5,-4,-3,-2,-1,0,1,2,3,4,5,6,7], "labels": false, "domain": false, "tickSize": -5, "title": null}},
       "fill": {"field": "l", "type": "ordinal", "scale": {"domain": [0, 4, 6, 8, 10], "range": ["#ffffff", "#e4e4e4", "#bababa", "#8a8a8a", "#555555"]}, "legend": null},
       "detail": {"field": "g"},
       "order": {"value": null}
      }},
     {"data": {"name": "labC"},
      "mark": {"type": "text", "font": "Liberation Serif", "fontSize": 25, "color": "#222"},
      "encoding": {
       "x": {"field": "x", "type": "quantitative", "scale": {"domain": [-0.0520, 0.0518], "nice": false, "zero": false}, "axis": null},
       "y": {"field": "y", "type": "quantitative", "scale": {"domain": [-13.4, 7.5], "nice": false, "zero": false}, "axis": null},
       "text": {"field": "t"}
      }}
    ]
   }
  ]
 }
]
}
